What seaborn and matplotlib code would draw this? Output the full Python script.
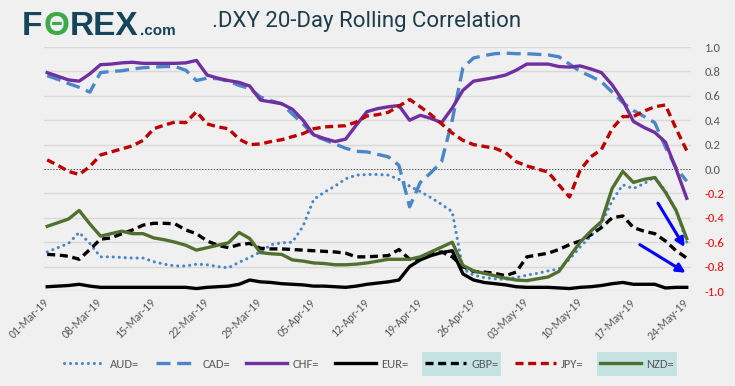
import numpy as np
import pandas as pd
import matplotlib
matplotlib.use("Agg")
import matplotlib.pyplot as plt
import seaborn as sns
from matplotlib.lines import Line2D
from matplotlib.patches import Rectangle
from matplotlib import font_manager as fm

# ---------------- data ----------------
tick_labels = ['01-Mar-19', '08-Mar-19', '15-Mar-19', '22-Mar-19', '29-Mar-19',
               '05-Apr-19', '12-Apr-19', '19-Apr-19', '26-Apr-19', '03-May-19',
               '10-May-19', '17-May-19', '24-May-19']
day_index = list(range(61))   # trading days 01-Mar-19 .. 24-May-19

aud = [-0.68, -0.645, -0.61, -0.52, -0.61, -0.72, -0.72, -0.725, -0.73, -0.73,
       -0.76, -0.78, -0.795, -0.795, -0.78, -0.785, -0.80, -0.81, -0.765, -0.725,
       -0.68, -0.62, -0.605, -0.60, -0.47, -0.25, -0.19, -0.14, -0.08, -0.05,
       -0.045, -0.045, -0.05, -0.085, -0.14, -0.185, -0.235, -0.29, -0.35, -0.82,
       -0.87, -0.89, -0.90, -0.905, -0.89, -0.87, -0.855, -0.835, -0.82, -0.74,
       -0.64, -0.55, -0.45, -0.26, -0.13, -0.16, -0.12, -0.065, -0.18, -0.34,
       -0.60]
cad = [0.765, 0.735, 0.70, 0.67, 0.63, 0.79, 0.80, 0.805, 0.82, 0.83,
       0.835, 0.84, 0.84, 0.81, 0.725, 0.745, 0.74, 0.72, 0.685, 0.66,
       0.59, 0.56, 0.535, 0.45, 0.37, 0.275, 0.24, 0.205, 0.17, 0.145,
       0.14, 0.12, 0.10, 0.03, -0.31, -0.11, -0.03, 0.06, 0.40, 0.83,
       0.91, 0.93, 0.945, 0.95, 0.945, 0.945, 0.94, 0.935, 0.92, 0.86,
       0.80, 0.76, 0.715, 0.63, 0.545, 0.48, 0.43, 0.38, 0.18, 0.01,
       -0.10]
chf = [0.79, 0.76, 0.73, 0.72, 0.78, 0.855, 0.86, 0.87, 0.875, 0.866,
       0.866, 0.866, 0.866, 0.87, 0.89, 0.77, 0.745, 0.725, 0.71, 0.68,
       0.565, 0.55, 0.535, 0.49, 0.40, 0.28, 0.25, 0.225, 0.245, 0.36,
       0.47, 0.495, 0.51, 0.52, 0.40, 0.44, 0.415, 0.38, 0.50, 0.645,
       0.72, 0.735, 0.75, 0.77, 0.81, 0.86, 0.86, 0.86, 0.84, 0.835,
       0.845, 0.82, 0.79, 0.69, 0.56, 0.39, 0.34, 0.30, 0.22, 0.0,
       -0.24]
eur = [-0.965, -0.96, -0.955, -0.945, -0.96, -0.97, -0.97, -0.97, -0.97, -0.97,
       -0.97, -0.97, -0.97, -0.97, -0.98, -0.97, -0.965, -0.96, -0.945, -0.91,
       -0.925, -0.93, -0.94, -0.945, -0.95, -0.96, -0.96, -0.965, -0.97, -0.96,
       -0.945, -0.935, -0.925, -0.91, -0.80, -0.745, -0.71, -0.685, -0.67, -0.86,
       -0.91, -0.93, -0.94, -0.95, -0.965, -0.97, -0.97, -0.97, -0.975, -0.98,
       -0.97, -0.965, -0.955, -0.94, -0.93, -0.945, -0.945, -0.945, -0.975, -0.97,
       -0.97]
gbp = [-0.70, -0.705, -0.715, -0.74, -0.66, -0.575, -0.565, -0.53, -0.50, -0.46,
       -0.445, -0.445, -0.45, -0.50, -0.53, -0.59, -0.625, -0.645, -0.62, -0.61,
       -0.65, -0.655, -0.655, -0.66, -0.665, -0.67, -0.675, -0.68, -0.69, -0.72,
       -0.72, -0.715, -0.71, -0.66, -0.74, -0.74, -0.69, -0.68, -0.72, -0.80,
       -0.84, -0.845, -0.855, -0.875, -0.845, -0.72, -0.705, -0.69, -0.66, -0.62,
       -0.59, -0.54, -0.48, -0.40, -0.385, -0.48, -0.51, -0.53, -0.59, -0.67,
       -0.73]
jpy = [0.075, 0.03, -0.02, -0.045, 0.02, 0.115, 0.14, 0.165, 0.19, 0.235,
       0.33, 0.36, 0.385, 0.38, 0.47, 0.37, 0.345, 0.33, 0.245, 0.20,
       0.205, 0.225, 0.24, 0.265, 0.29, 0.33, 0.345, 0.35, 0.355, 0.385,
       0.435, 0.445, 0.465, 0.515, 0.57, 0.51, 0.445, 0.37, 0.295, 0.235,
       0.20, 0.185, 0.17, 0.135, 0.06, 0.025, 0.0, -0.025, -0.13, -0.23,
       -0.01, 0.10, 0.16, 0.33, 0.43, 0.43, 0.475, 0.51, 0.525, 0.33,
       0.15]
nzd = [-0.47, -0.44, -0.41, -0.34, -0.45, -0.55, -0.53, -0.51, -0.53, -0.53,
       -0.565, -0.58, -0.60, -0.625, -0.665, -0.645, -0.625, -0.605, -0.52, -0.57,
       -0.685, -0.695, -0.70, -0.745, -0.755, -0.77, -0.775, -0.785, -0.785, -0.78,
       -0.77, -0.755, -0.74, -0.74, -0.74, -0.72, -0.68, -0.64, -0.60, -0.79,
       -0.835, -0.855, -0.875, -0.895, -0.91, -0.915, -0.90, -0.885, -0.84, -0.72,
       -0.60, -0.51, -0.43, -0.16, -0.02, -0.11, -0.085, -0.07, -0.19, -0.34,
       -0.57]

series_names = ['AUD=', 'CAD=', 'CHF=', 'EUR=', 'GBP=', 'JPY=', 'NZD=']
highlighted = ['GBP=', 'NZD=']
y_ticks = [1.0, 0.8, 0.6, 0.4, 0.2, 0.0, -0.2, -0.4, -0.6, -0.8, -1.0]

# ---------------- fonts ----------------
avail = {f.name for f in fm.fontManager.ttflist}
def pick(*names):
    for n in names:
        if n in avail:
            return n
    return 'DejaVu Sans'
body_font = pick('Carlito', 'Lato', 'Open Sans', 'DejaVu Sans')
title_font = pick('Liberation Sans Narrow', 'Roboto', 'Lato')
logo_font = pick('Liberation Sans', 'Roboto', 'DejaVu Sans')

BG = '#f0f0f0'
W, H = 735, 386
plt.rcParams['font.family'] = [body_font, 'DejaVu Sans']

df = pd.DataFrame({'day': day_index, 'AUD=': aud, 'CAD=': cad, 'CHF=': chf,
                   'EUR=': eur, 'GBP=': gbp, 'JPY=': jpy, 'NZD=': nzd})

styles = {
    'AUD=': dict(color='#4a86c8', lw=2.2, linestyle=(0, (0.05, 1.9)), dash_capstyle='round'),
    'CAD=': dict(color='#4a86c8', lw=2.4, linestyle=(0, (4.2, 2.0)), dash_capstyle='butt'),
    'CHF=': dict(color='#7030a0', lw=2.4, linestyle='-'),
    'EUR=': dict(color='#000000', lw=2.4, linestyle='-'),
    'GBP=': dict(color='#000000', lw=2.4, linestyle=(0, (2.4, 1.4)), dash_capstyle='butt'),
    'JPY=': dict(color='#c00000', lw=2.4, linestyle=(0, (2.4, 1.4)), dash_capstyle='butt'),
    'NZD=': dict(color='#507030', lw=2.4, linestyle='-'),
}

fig = plt.figure(figsize=(W / 100, H / 100), dpi=100, facecolor=BG)
ax = fig.add_axes([44 / W, 1 - 291 / H, (691 - 44) / W, (291 - 47) / H])
ax.set_facecolor(BG)

for name in series_names:
    sns.lineplot(data=df, x='day', y=name, ax=ax, legend=False,
                 solid_joinstyle='round', **styles[name])

ax.set_xlim(-0.3, 60.4)
ax.set_ylim(-1.0, 1.0)
for s in ax.spines.values():
    s.set_visible(False)

# grid
ax.set_yticks(y_ticks)
for v in y_ticks:
    if v == 0.0:
        ax.axhline(v, color='#595959', lw=0.7, ls=(0, (1.5, 1.5)), zorder=1)
    else:
        ax.axhline(v, color='#d9d9d9', lw=1.0, zorder=0)

ax.yaxis.tick_right()
ax.tick_params(axis='y', length=0, pad=10, labelsize=9)
ax.set_yticklabels([f'{v:.1f}' for v in y_ticks])
for lab, v in zip(ax.get_yticklabels(), y_ticks):
    lab.set_color('#ff0000' if v < 0 else '#595959')

ax.set_xticks(day_index[::5])
ax.set_xticklabels(tick_labels)
ax.tick_params(axis='x', length=0, pad=7, labelsize=8.5, labelcolor='#595959')
for lab in ax.get_xticklabels():
    lab.set_rotation(45)
    lab.set_ha('right')
    lab.set_va('center')
    lab.set_rotation_mode('anchor')
ax.set_xlabel('')
ax.set_ylabel('')

# annotation arrows
arrow_kw = dict(arrowstyle='-|>', color='#0000ff', lw=2.2, mutation_scale=13,
                shrinkA=0, shrinkB=0)
ax.annotate('', xy=(59.8, -0.64), xytext=(57.3, -0.28), arrowprops=arrow_kw)
ax.annotate('', xy=(59.9, -0.85), xytext=(55.6, -0.62), arrowprops=arrow_kw)

# legend
handles = []
for name in series_names:
    st = styles[name]
    handles.append(Line2D([0], [0], color=st['color'], lw=st['lw'],
                          linestyle=st['linestyle'],
                          dash_capstyle=st.get('dash_capstyle', 'butt')))
leg = fig.legend(handles, series_names, loc='center', bbox_to_anchor=(369 / W, 1 - 364 / H),
                 ncol=7, frameon=False, fontsize=9, handlelength=3.3,
                 handletextpad=0.4, columnspacing=1.3, labelcolor='#595959')
leg.set_zorder(5)

# title
fig.text(212 / W, 1 - 22 / H, '.DXY 20-Day Rolling Correlation', ha='left', va='center',
         fontsize=16, color='#1e3d4c', family=[title_font, 'DejaVu Sans'])

fig.canvas.draw()
renderer = fig.canvas.get_renderer()

# highlight boxes behind GBP= and NZD= legend entries
for name in highlighted:
    i = series_names.index(name)
    bt = leg.get_texts()[i].get_window_extent(renderer)
    bh = leg.legend_handles[i].get_window_extent(renderer)
    x0 = min(bt.x0, bh.x0) - 3
    x1 = max(bt.x1, bh.x1) + 3
    yc = (bt.y0 + bt.y1) / 2
    h = 24
    fig.patches.append(Rectangle((x0 / W, (yc - h / 2) / H), (x1 - x0) / W, h / H,
                                 transform=fig.transFigure, facecolor='#c5e3e3',
                                 edgecolor='none', zorder=0))

# logo
logo_col = '#16455a'
x = 22 / W
yb = 1 - 35 / H
for txt, col, size in [('F', logo_col, 24), ('Θ', '#3aaa4a', 24), ('REX', logo_col, 24),
                       ('.com', logo_col, 11)]:
    t = fig.text(x, yb, txt, ha='left', va='baseline', fontsize=size, fontweight='bold',
                 color=col, family=[logo_font, 'DejaVu Sans'])
    bb = t.get_window_extent(renderer)
    x = bb.x1 / W + 1 / W

fig.savefig('out.png', dpi=100, facecolor=BG)
